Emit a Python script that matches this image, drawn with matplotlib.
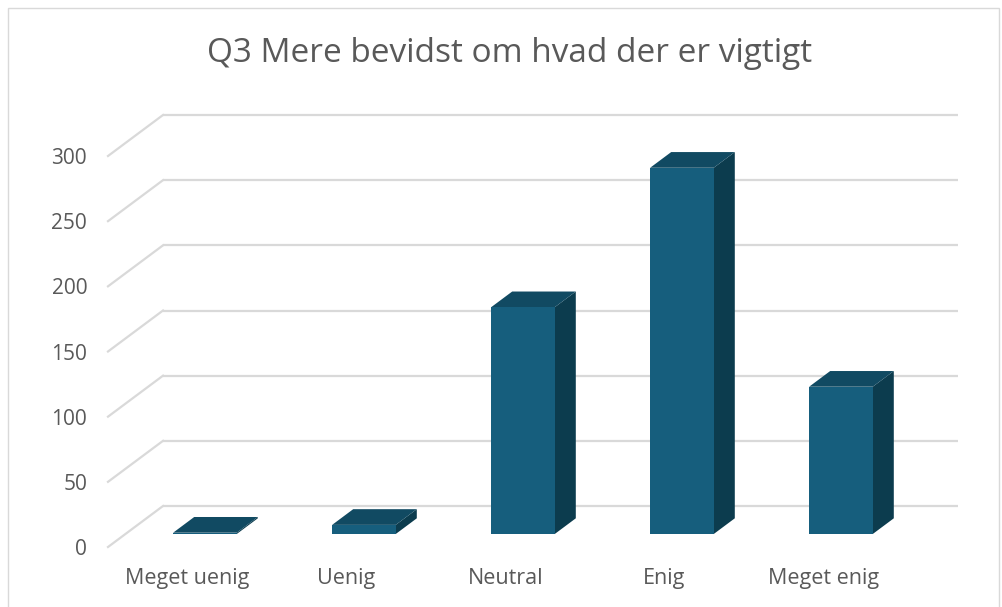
import numpy as np
import matplotlib
matplotlib.use("Agg")
import matplotlib.pyplot as plt
from matplotlib.transforms import ScaledTranslation
from matplotlib.patches import Polygon, Rectangle

categories = ["Meget uenig", "Uenig", "Neutral", "Enig", "Meget enig"]
values = [1, 7, 174, 281, 113]
yticks = [0, 50, 100, 150, 200, 250, 300]
title = "Q3 Mere bevidst om hvad der er vigtigt"

FONT = ["Open Sans", "DejaVu Sans"]
TXT = "#595959"
GRID = "#D9D9D9"
C_FRONT = "#165E7D"
C_TOP = "#114A62"
C_SIDE = "#0C3C4E"

W, H, DPI = 1002, 607, 100
fig = plt.figure(figsize=(W / DPI, H / DPI), dpi=DPI)
ax = fig.add_axes([108 / W, 60 / H, 795 / W, 391 / H])
ax.set_xlim(-0.5, len(categories) - 0.5)
ax.set_ylim(0, 300)
ax.patch.set_visible(False)
for s in ax.spines.values():
    s.set_visible(False)

# depth offset of the back wall in pixels
DX, DY = 55, 41
D0, D1 = 0.317, 0.70
BW = 0.40


def off(d):
    return ax.transData + ScaledTranslation(DX * d / DPI, DY * d / DPI, fig.dpi_scale_trans)


def P(x, y, d):
    disp = ax.transData.transform((x, y)) + np.array([DX * d, DY * d])
    return ax.transData.inverted().transform(disp)


# walls: back gridlines + side diagonals
x0, x1 = -0.5, len(categories) - 0.5
for v in yticks:
    ax.plot([x0, x1], [v, v], color=GRID, lw=1.6, transform=off(1), clip_on=False, zorder=1,
            solid_capstyle="butt")
    a, b = P(x0, v, 0), P(x0, v, 1)
    ax.plot([a[0], b[0]], [a[1], b[1]], color=GRID, lw=1.6, clip_on=False, zorder=1)

# bars
xs = np.arange(len(categories))
ax.bar(xs, values, width=BW, color=C_FRONT, transform=off(D0), zorder=3, clip_on=False,
       linewidth=0)
for x, v in zip(xs, values):
    l, r = x - BW / 2, x + BW / 2
    top = [P(l, v, D0), P(r, v, D0), P(r, v, D1), P(l, v, D1)]
    side = [P(r, 0, D0), P(r, v, D0), P(r, v, D1), P(r, 0, D1)]
    ax.add_patch(Polygon(side, closed=True, facecolor=C_SIDE, edgecolor="none", zorder=2.9,
                         clip_on=False))
    ax.add_patch(Polygon(top, closed=True, facecolor=C_TOP, edgecolor="none", zorder=2.9,
                         clip_on=False))

ax.set_yticks(yticks)
ax.set_yticklabels([str(t) for t in yticks], fontsize=15, color=TXT, family=FONT)
ax.set_xticks(xs)
ax.set_xticklabels(categories, fontsize=15.5, color=TXT, family=FONT)
ax.tick_params(axis="y", length=0, pad=15)
ax.tick_params(axis="x", length=0, pad=15)

fig.text(510 / W, 1 - 53 / H, title, ha="center", va="center", fontsize=24, color=TXT,
         family=FONT)

fig.add_artist(Rectangle((8 / W, -0.05), (999 - 8) / W, 1.05 - 8 / H, transform=fig.transFigure,
                         fill=False, edgecolor=GRID, lw=1))

fig.savefig("out.png", dpi=DPI)
